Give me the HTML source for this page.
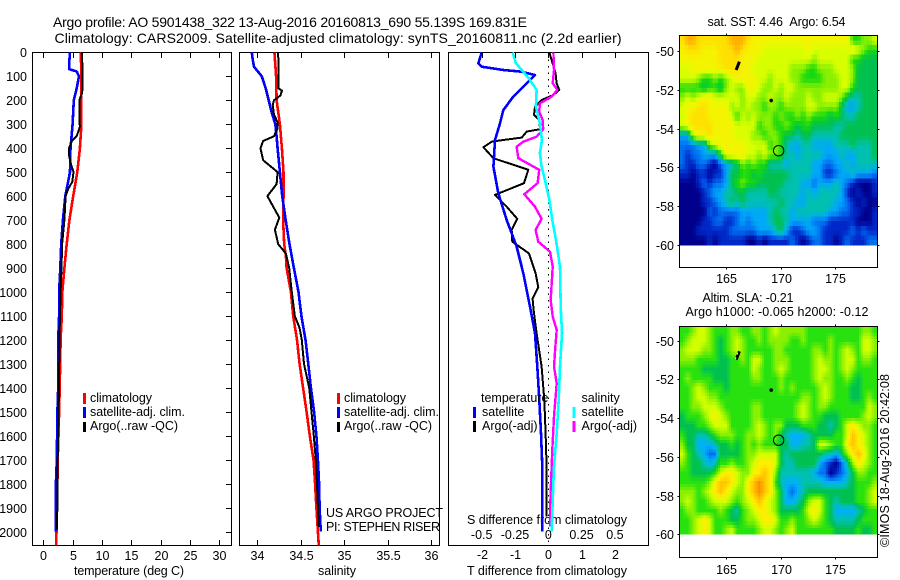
<!DOCTYPE html>
<html lang="en">
<head>
<meta charset="utf-8">
<title>Argo profile 5901438_322</title>
<style>
  html, body { margin: 0; padding: 0; background: #fff; }
  svg { display: block; }
  text { font-family: "Liberation Sans", sans-serif; font-size: 12.5px; fill: #000; }
  .big { font-size: 14px; }
</style>
</head>
<body>
<svg id="chart" xmlns="http://www.w3.org/2000/svg" width="900" height="580" viewBox="0 0 900 580">
  <rect x="0" y="0" width="900" height="580" fill="#fff"/>
  <text class="big" x="53" y="27" textLength="474">Argo profile: AO 5901438_322 13-Aug-2016 20160813_690 55.139S 169.831E</text>
  <text class="big" x="54.5" y="43" textLength="567">Climatology: CARS2009. Satellite-adjusted climatology: synTS_20160811.nc (2.2d earlier)</text>

  <text x="74" y="575" textLength="110">temperature (deg C)</text>
  <text x="318" y="575" textLength="38">salinity</text>
  <text x="467" y="575" textLength="160">T difference from climatology</text>
  <text x="467" y="524" textLength="160">S difference from climatology</text>

  <g>
    <rect x="83" y="393" width="3" height="11" fill="#f00"/>
    <text x="90" y="402" textLength="62">climatology</text>
    <rect x="83" y="407" width="3" height="11" fill="#00f"/>
    <text x="90" y="416" textLength="95">satellite-adj. clim.</text>
    <rect x="83" y="422" width="3" height="10" fill="#000"/>
    <text x="90" y="430" textLength="88">Argo(..raw -QC)</text>
  </g>
  <g>
    <rect x="337" y="393" width="3" height="11" fill="#f00"/>
    <text x="344" y="402" textLength="62">climatology</text>
    <rect x="337" y="407" width="3" height="11" fill="#00f"/>
    <text x="344" y="416" textLength="95">satellite-adj. clim.</text>
    <rect x="337" y="422" width="3" height="10" fill="#000"/>
    <text x="344" y="430" textLength="88">Argo(..raw -QC)</text>
  </g>
  <text x="326" y="517" textLength="117">US ARGO PROJECT</text>
  <text x="326" y="531" textLength="114">PI: STEPHEN RISER</text>

  <text x="707.5" y="26" textLength="138">sat. SST: 4.46 &#160;Argo: 6.54</text>
  <text x="702.5" y="302" textLength="91">Altim. SLA: -0.21</text>
  <text x="685.5" y="316" textLength="183">Argo h1000: -0.065 h2000: -0.12</text>
  <text transform="translate(889 547) rotate(-90)" textLength="173">©IMOS 18-Aug-2016 20:42:08</text>
</svg>

<script>
// ---------- profile data: depth (m) and value pairs for each series ----------
const depthTicks = [0,100,200,300,400,500,600,700,800,900,1000,1100,1200,1300,1400,1500,1600,1700,1800,1900,2000];
const tempTicks = [0,5,10,15,20,25,30];
const salTicks = [34,34.5,35,35.5,36];
const salTickLabels = ['34','34.5','35','35.5','36'];
const dTTicks = [-2,-1,0,1,2];
const dTTickLabels = ['-2','-1','0','1','2'];
const dSTicks = [-0.5,-0.25,0,0.25,0.5];
const dSTickLabels = ['-0.5','-0.25','0','0.25','0.5'];

const climTempDepth = [0,100,200,300,400,500,600,700,800,900,1000,1100,1200,1400,1600,1700,1800,2000,2057];
const climTempValue = [6.4,6.5,6.5,6.5,6.25,5.8,5.1,4.45,4.0,3.6,3.25,3.15,2.95,2.8,2.6,2.45,2.4,2.25,2.2];
const satTempDepth = [0,50,70,80,100,150,200,300,400,500,600,700,800,900,1000,1100,1200,1400,1500,1700,1800,2000];
const satTempValue = [4.55,4.4,4.4,5.7,6.1,5.7,5.2,5.0,4.65,4.55,3.75,3.35,3.05,2.9,2.7,2.7,2.55,2.55,2.4,2.3,2.15,2.15];
const argoTempDepth = [0,100,150,170,200,280,310,350,370,400,430,460,500,540,570,600,700,800,900,1000,1100,1200,1400,1500,1700,1850,1990];
const argoTempValue = [6.6,6.7,6.7,6.6,6.15,6.15,6.25,5.7,4.85,4.4,4.4,4.65,5.15,4.95,4.25,3.8,3.6,3.2,3.1,2.95,2.85,2.75,2.7,2.6,2.45,2.4,2.35];

const climSalDepth = [0,100,200,300,400,500,600,700,800,850,900,1000,1100,1200,1300,1400,1500,1600,1700,1800,1900,2000,2057];
const climSalValue = [34.2,34.22,34.225,34.263,34.286,34.305,34.305,34.3,34.313,34.332,34.34,34.39,34.416,34.46,34.49,34.53,34.57,34.607,34.65,34.668,34.683,34.7,34.71];
const satSalDepth = [0,30,60,100,150,200,250,300,350,400,500,600,700,800,900,1000,1100,1200,1300,1400,1500,1600,1700,1800,1900,2000];
const satSalValue = [33.94,33.95,33.965,34.055,34.1,34.134,34.168,34.21,34.225,34.237,34.263,34.29,34.33,34.374,34.424,34.477,34.51,34.557,34.59,34.62,34.656,34.683,34.7,34.714,34.72,34.733];
const argoSalDepth = [0,150,160,180,200,220,260,290,320,350,370,400,450,500,550,600,690,740,800,840,900,1000,1100,1150,1200,1300,1400,1500,1600,1700,1800,1900,1980];
const argoSalValue = [34.244,34.248,34.286,34.27,34.195,34.18,34.195,34.233,34.233,34.195,34.07,34.04,34.07,34.237,34.225,34.12,34.256,34.206,34.244,34.332,34.37,34.4,34.435,34.49,34.515,34.54,34.6,34.626,34.653,34.676,34.69,34.7,34.71];

const satDTDepth = [0,46,60,74,81,95,129,185,241,296,366,477,588,700,811,922,1061,1172,1311,1450,1589,1728,1867,2000];
const satDTValue = [-2.0,-2.1,-2.0,-1.35,-0.8,-0.4,-0.65,-1.05,-1.35,-1.45,-1.6,-1.65,-1.5,-1.25,-0.95,-0.75,-0.55,-0.4,-0.33,-0.27,-0.22,-0.18,-0.18,-0.18];
const argoDTDepth = [0,32,88,129,157,178,199,227,261,282,321,331,356,366,373,396,442,490,546,595,644,695,741,790,839,922,981,1027,1075,1172,1311,1450,1589,1728,1867,1936];
const argoDTValue = [0.03,0.1,0.22,0.25,0.33,0.15,-0.2,-0.4,-0.43,-0.27,-0.25,-0.65,-0.8,-1.35,-1.7,-1.95,-1.65,-0.6,-0.73,-1.6,-1.25,-0.93,-1.1,-1.08,-0.58,-0.38,-0.3,-0.47,-0.44,-0.35,-0.2,-0.12,-0.08,-0.05,-0.05,-0.05];
const satDSDepth = [0,46,81,115,157,227,296,366,421,477,533,616,700,783,894,1061,1172,1311,1450,1589,1728,1867,2000];
const satDSValue = [-0.268,-0.243,-0.188,-0.138,-0.088,-0.093,-0.063,-0.048,-0.063,-0.05,-0.025,0.008,0.03,0.058,0.088,0.093,0.103,0.088,0.078,0.063,0.043,0.033,0.025];
const argoDSDepth = [0,74,129,157,185,213,248,282,321,352,373,394,442,490,546,592,644,695,741,790,832,894,1033,1103,1158,1214,1311,1381,1519,1658,1797,1922,1978];
const argoDSValue = [0.038,0.043,0.033,0.068,0.025,-0.063,-0.068,-0.043,-0.038,-0.088,-0.188,-0.238,-0.225,-0.068,-0.08,-0.18,-0.1,-0.05,-0.095,-0.075,0.013,0.033,0.018,0.033,0.063,0.055,0.043,0.063,0.043,0.03,0.02,0.013,0.013];

// ---------- map data: colour-level grids (row 0 = northernmost) ----------
const mapLonTicks = [165,170,175];
const mapLatTicks = [-50,-52,-54,-56,-58,-60];
const argoLon = 169.83;
const argoLat = -55.14;
const sstLevels = [
[10,11,11,10,10,10,10,10,10,11,11,11,10,9,9,9,9,9,9,9,9,9,9,9,9,9,9,9,9,9,9,6,6,7,7,8],
[9,10,10,10,9,9,9,10,10,10,11,10,9,9,9,8,8,8,8,8,8,8,8,9,8,8,8,8,8,8,8,9,8,7,6,6],
[9,9,9,9,9,9,9,10,10,10,10,9,9,9,8,8,8,8,8,8,8,8,8,8,7,8,8,8,8,8,8,6,6,5,5,5],
[8,8,9,9,9,9,9,9,10,10,10,9,9,8,8,8,8,8,8,8,7,7,7,6,6,7,7,7,8,8,8,7,5,5,5,5],
[8,8,8,7,6,6,7,6,7,8,9,9,9,9,8,8,7,8,8,8,7,7,6,6,6,6,7,7,7,8,8,7,5,5,5,5],
[6,6,6,6,5,6,6,5,7,8,7,7,9,9,8,7,7,8,7,8,8,7,7,7,7,7,7,7,7,8,8,6,5,5,5,5],
[7,8,7,8,9,9,8,8,8,8,8,7,8,8,7,7,8,7,7,8,7,7,7,8,7,7,8,8,8,7,5,4,4,5,5,5],
[8,9,9,10,10,9,9,9,9,7,8,7,8,7,7,6,7,7,6,7,7,7,7,8,8,7,7,7,7,5,3,3,4,5,5,5],
[8,9,10,10,10,9,9,9,9,8,6,8,7,8,7,7,7,6,7,6,6,7,6,7,6,6,6,5,6,5,4,4,5,5,5,5],
[8,9,10,10,10,10,9,9,9,9,8,8,8,8,6,7,7,6,6,7,6,5,6,6,5,5,5,5,4,4,5,5,5,5,5,5],
[3,3,8,9,9,10,9,9,9,9,8,8,8,7,7,6,7,7,6,5,5,4,5,5,4,4,4,4,4,5,5,5,5,5,5,5],
[2,2,2,3,3,7,8,9,9,9,9,9,8,8,8,8,6,7,6,4,3,3,4,4,3,3,3,3,4,4,4,5,4,4,4,5],
[2,1,2,2,3,3,3,6,9,9,9,9,8,8,7,8,7,7,6,4,4,3,4,4,4,4,3,3,3,4,3,3,4,4,4,5],
[2,1,1,2,2,1,0,2,3,4,5,7,6,7,6,6,4,4,4,3,4,4,4,4,3,3,2,2,3,3,4,3,4,4,4,4],
[1,1,0,1,1,0,1,1,3,5,5,6,6,5,6,5,5,5,5,5,4,4,4,4,3,3,1,1,2,3,3,4,3,3,3,2],
[0,0,0,1,2,1,2,2,3,5,6,7,6,6,5,5,5,5,5,4,4,4,3,3,2,3,3,3,4,3,2,1,0,0,0,1],
[0,0,0,0,1,2,3,3,4,4,5,5,4,4,4,4,5,5,4,4,4,4,3,4,3,4,4,4,4,3,1,0,1,0,0,1],
[0,0,0,0,1,1,2,3,4,5,4,5,4,4,4,4,4,4,5,4,4,3,3,4,4,4,4,4,3,3,2,1,0,1,0,0],
[0,0,0,0,0,2,1,2,2,2,2,3,3,3,3,3,4,5,4,4,3,4,4,4,4,4,4,3,3,2,2,1,1,0,0,1],
[0,0,0,0,1,1,2,2,1,1,2,3,2,3,3,3,4,5,5,4,3,3,3,3,2,2,2,1,1,1,1,1,0,0,0,1],
[0,0,0,1,1,1,1,1,1,2,2,2,2,2,3,3,3,4,5,3,1,1,2,3,3,2,1,1,1,1,1,2,1,2,1,1],
[0,0,0,0,0,1,0,1,1,1,1,1,0,0,1,0,1,1,1,1,2,1,0,1,2,2,1,1,0,1,2,1,1,1,2,2]
];
const slaLevels = [
[6,6,7,8,8,7,6,6,6,7,7,6,6,7,7,6,7,8,7,7,7,7,7,6,6,6,6,6,6,6,6,6,6,7,7,6],
[6,7,8,8,8,7,6,5,6,7,8,7,6,6,7,6,7,7,7,7,6,6,7,6,6,6,6,7,6,6,6,6,6,8,8,7],
[7,8,8,8,7,7,6,5,6,7,8,7,6,6,6,6,6,7,7,6,6,6,6,6,7,7,6,7,6,7,8,7,6,8,8,7],
[7,7,7,6,6,6,6,5,5,6,6,7,6,8,8,6,6,7,7,7,6,6,6,6,7,8,7,7,6,7,8,8,6,7,7,6],
[6,6,6,6,5,5,5,5,5,6,6,6,6,8,7,6,6,7,8,7,6,6,6,6,7,8,8,7,6,7,8,7,6,6,6,6],
[6,7,6,6,6,6,5,5,5,6,6,6,6,7,7,6,6,6,7,6,6,6,6,6,7,8,7,7,6,6,7,6,5,6,6,6],
[6,6,7,8,7,6,6,6,5,6,6,6,6,6,6,6,6,6,7,6,7,6,6,6,6,7,8,7,6,6,6,5,5,6,6,6],
[6,6,7,8,8,7,7,6,6,6,6,6,6,6,6,6,6,6,6,6,6,6,7,7,6,7,8,7,6,6,6,5,5,6,7,6],
[6,6,7,7,8,8,8,7,6,6,6,6,6,7,7,6,6,6,6,6,6,7,8,7,6,7,7,6,6,6,6,6,6,6,8,7],
[5,6,6,6,7,8,9,8,7,6,6,6,6,7,7,6,6,6,6,6,6,7,8,7,6,6,5,5,5,6,6,6,6,7,8,7],
[5,5,5,6,6,7,8,8,8,6,6,6,6,7,8,7,6,7,7,5,5,5,6,6,6,5,5,4,5,6,8,9,8,7,7,6],
[6,5,5,4,4,5,6,7,7,7,6,6,7,7,8,7,6,7,5,4,3,3,3,4,5,5,5,5,6,6,8,10,9,8,7,6],
[7,5,5,3,3,3,4,5,5,6,5,6,7,6,7,6,6,6,5,5,3,3,4,4,5,8,8,7,6,6,9,10,9,8,7,6],
[8,6,5,4,3,2,2,5,5,5,5,6,7,7,8,8,8,8,5,4,5,5,5,5,5,5,4,4,3,5,7,9,10,9,7,6],
[7,6,5,5,4,3,4,6,6,7,6,6,7,8,9,9,9,8,5,4,4,5,5,5,5,3,2,1,0,2,4,7,9,8,7,6],
[6,6,5,5,5,5,6,8,9,9,8,7,7,9,9,10,9,7,4,4,4,4,4,4,3,2,2,0,1,2,3,5,7,7,6,6],
[6,6,6,6,6,7,9,10,10,9,8,7,9,10,11,10,9,6,4,3,3,3,4,4,4,4,3,3,3,3,4,5,6,6,6,7],
[7,7,7,6,7,8,9,10,9,8,7,7,9,10,11,10,9,7,5,3,2,3,4,5,5,5,5,5,5,5,5,5,6,6,7,8],
[7,8,7,6,6,7,8,8,8,7,6,7,8,9,10,9,8,7,5,3,3,4,5,7,8,8,6,5,4,5,5,5,6,6,7,8],
[6,7,7,6,6,6,6,7,6,5,4,6,7,8,9,9,8,7,5,5,5,5,6,8,9,8,6,5,3,3,3,3,4,5,6,6],
[6,6,7,8,9,8,6,6,6,5,5,6,7,7,8,9,9,8,6,6,7,6,6,7,8,7,6,5,4,4,4,4,5,6,6,6],
[6,6,7,8,9,8,6,6,7,8,6,6,6,6,7,8,8,7,6,7,8,6,6,6,6,6,6,6,5,5,5,5,6,5,5,6]
];

// ---------- rendering ----------
const svg = document.getElementById('chart');
const NS = 'http://www.w3.org/2000/svg';
const sstColors = [[0,0,140],[0,40,200],[0,112,240],[0,168,248],[0,192,176],[0,192,80],[24,216,16],[136,240,0],[216,255,0],[244,244,0],[255,224,0],[255,176,0]];
const slaColors = [[0,0,140],[0,40,200],[0,112,240],[0,176,248],[0,192,176],[0,192,80],[40,226,16],[136,240,0],[208,255,0],[255,238,0],[255,196,0],[255,140,0]];

function mk(tag, attrs, parent) {
  const el = document.createElementNS(NS, tag);
  for (const k in attrs) el.setAttribute(k, attrs[k]);
  (parent || svg).appendChild(el);
  return el;
}
function yDepth(d) { return 52.3 + d * 0.2397; }
function xTemp(v) { return 43.3 + v * 5.86; }
function xSal(v) { return 257 + (v - 34) * 87; }
function xDT(v) { return 548.3 + v * 33.3; }
function xDS(v) { return 548.3 + v * 133.2; }

function drawPanel(name, left, right) {
  const g = mk('g', {});
  
  
  const frame = mk('rect', { x: left, y: 52.5, width: right - left, height: 493, fill: 'none', stroke: '#000', 'stroke-width': 1, 'shape-rendering': 'crispEdges' }, g);
  
  
  return g;
}
function drawSeries(g, name, depths, values, xFn, color, width) {
  const pts = depths.map((d, i) => xFn(values[i]).toFixed(1) + ',' + yDepth(d).toFixed(1)).join(' ');
  const line = mk('polyline', { points: pts, fill: 'none', stroke: color, 'stroke-width': width, 'shape-rendering': 'crispEdges', 'stroke-linejoin': 'round' }, g);
  
  
}
function tickLine(g, x1, y1, x2, y2) {
  const t = mk('line', { x1: x1, y1: y1, x2: x2, y2: y2, stroke: '#000', 'stroke-width': 1, 'shape-rendering': 'crispEdges' }, g);
  
  
}
function tickText(g, x, y, anchor, str) {
  const t = mk('text', { x: x, y: y, 'text-anchor': anchor }, g);
  
  
  t.textContent = str;
}

// temperature panel
const p1 = drawPanel('temperature-panel', 32.5, 231.5);
drawSeries(p1, 'climatology-temperature-line', climTempDepth, climTempValue, xTemp, '#f00', 2.6);
drawSeries(p1, 'satellite-temperature-line', satTempDepth, satTempValue, xTemp, '#00f', 2.6);
drawSeries(p1, 'argo-temperature-line', argoTempDepth, argoTempValue, xTemp, '#000', 2);
depthTicks.forEach(d => {
  const y = Math.round(yDepth(d)) + 0.5;
  tickLine(p1, 226, y, 231, y);
  tickText(p1, 27, y + 4.5, 'end', String(d));
});
tempTicks.forEach(v => {
  const x = Math.round(xTemp(v)) + 0.5;
  tickLine(p1, x, 53, x, 58);
  tickLine(p1, x, 540, x, 545);
  tickText(p1, x, 560, 'middle', String(v));
});

// salinity panel
const p2 = drawPanel('salinity-panel', 239.5, 439.5);
drawSeries(p2, 'climatology-salinity-line', climSalDepth, climSalValue, xSal, '#f00', 2.6);
drawSeries(p2, 'satellite-salinity-line', satSalDepth, satSalValue, xSal, '#00f', 2.6);
drawSeries(p2, 'argo-salinity-line', argoSalDepth, argoSalValue, xSal, '#000', 2);
salTicks.forEach((v, i) => {
  const x = Math.round(xSal(v)) + 0.5;
  tickLine(p2, x, 53, x, 58);
  tickLine(p2, x, 540, x, 545);
  tickText(p2, x, 560, 'middle', salTickLabels[i]);
});

// difference panel
const p3 = drawPanel('difference-panel', 448.5, 648.5);
const zero = mk('line', { x1: xDT(0), y1: 53, x2: xDT(0), y2: 545, stroke: '#000', 'stroke-width': 1, 'stroke-dasharray': '1.5 5', 'shape-rendering': 'crispEdges' }, p3);


drawSeries(p3, 'argo-temperature-difference-line', argoDTDepth, argoDTValue, xDT, '#000', 2);
drawSeries(p3, 'satellite-temperature-difference-line', satDTDepth, satDTValue, xDT, '#00f', 2.6);
drawSeries(p3, 'argo-salinity-difference-line', argoDSDepth, argoDSValue, xDS, '#f0f', 2.4);
drawSeries(p3, 'satellite-salinity-difference-line', satDSDepth, satDSValue, xDS, '#0ff', 2.6);
dTTicks.forEach((v, i) => {
  const x = Math.round(xDT(v)) + 0.5;
  tickLine(p3, x, 53, x, 58);
  tickText(p3, x, 559, 'middle', dTTickLabels[i]);
});
dSTicks.forEach((v, i) => {
  tickText(p3, xDS(v), 539, 'middle', dSTickLabels[i]);
});

// difference legend, drawn above the series
const legendG = mk('g', {});


const legendHeads = ['temperature', 'satellite', 'Argo(-adj)', 'salinity', 'satellite', 'Argo(-adj)'];
const legendCols = [481, 482, 482, 581.5, 581.5, 581.5];
const legendRows = [402, 416, 430, 402, 416, 430];
const legendSwatch = [null, '#00f', '#000', null, '#0ff', '#f0f'];
legendHeads.forEach((str, i) => {
  const t = mk('text', { x: legendCols[i], y: legendRows[i] }, legendG);
  
  
  t.textContent = str;
  if (legendSwatch[i]) {
    const r = mk('rect', { x: legendCols[i] - 9, y: legendRows[i] - 9, width: 3, height: 11, fill: legendSwatch[i] }, legendG);
    
    
  }
});

// maps: each grid value is resampled bilinearly to a finer pixel raster
function sampleLevel(levels, u, v) {
  const rows = levels.length, cols = levels[0].length;
  const cu = Math.max(0, Math.min(cols - 1, u - 0.5));
  const cv = Math.max(0, Math.min(rows - 1, v - 0.5));
  const c0 = Math.floor(cu), r0 = Math.floor(cv);
  const c1 = Math.min(cols - 1, c0 + 1), r1 = Math.min(rows - 1, r0 + 1);
  const fu = cu - c0, fv = cv - r0;
  return (levels[r0][c0] * (1 - fu) + levels[r0][c1] * fu) * (1 - fv) +
         (levels[r1][c0] * (1 - fu) + levels[r1][c1] * fu) * fv;
}
function levelColor(palette, lev) {
  const i = Math.max(0, Math.min(palette.length - 2, Math.floor(lev)));
  const f = Math.min(1, lev - i);
  const c = [0, 1, 2].map(k => Math.round(palette[i][k] * (1 - f) + palette[i + 1][k] * f));
  return 'rgb(' + c.join(',') + ')';
}
function drawMap(name, levels, palette, upsample, top, bottom, lat50Y, lat60Y, labelY, islandDash) {
  const left = 679.5, right = 877.5;
  const xLon = lon => 725.7 + (lon - 165) * 10.96;
  const yLat = lat => lat50Y + (-50 - lat) * (lat60Y - lat50Y) / 10;
  const g = mk('g', {});
  
  
  const rows = levels.length * upsample, cols = levels[0].length * upsample;
  const cw = (right - left) / cols, ch = (lat60Y - top) / rows;
  for (let r = 0; r < rows; r++) {
    for (let c = 0; c < cols; c++) {
      const lev = sampleLevel(levels, (c + 0.5) / upsample, (r + 0.5) / upsample);
      const cell = mk('rect', { x: (left + c * cw).toFixed(2), y: (top + r * ch).toFixed(2), width: (cw + 0.4).toFixed(2), height: (ch + 0.4).toFixed(2), fill: levelColor(palette, lev), 'shape-rendering': 'crispEdges' }, g);
      
      
    }
  }
  const frame = mk('rect', { x: left, y: top, width: right - left, height: bottom - top, fill: 'none', stroke: '#000', 'stroke-width': 1, 'shape-rendering': 'crispEdges' }, g);
  
  
  mapLonTicks.forEach(v => {
    const x = Math.round(xLon(v)) + 0.5;
    tickLine(g, x, top - 2, x, top);
    tickLine(g, x, bottom, x, bottom + 2);
    tickText(g, x, labelY, 'middle', String(v));
  });
  mapLatTicks.forEach(v => {
    const y = Math.round(yLat(v)) + 0.5;
    tickLine(g, left - 2, y, left, y);
    tickLine(g, right, y, right + 2, y);
    tickText(g, 674, y + 4.5, 'end', String(v));
  });
  const big = mk('line', { x1: xLon(166.25), y1: yLat(-50.55), x2: xLon(165.95), y2: yLat(-50.98), stroke: '#000', 'stroke-width': 3 }, g);
  
  
  const small = mk('circle', { cx: xLon(169.15), cy: yLat(-52.55), r: 1.8, fill: '#000' }, g);
  
  
  if (islandDash) {
    const w = mk('line', { x1: xLon(166.1), y1: yLat(-50.62), x2: xLon(165.85), y2: yLat(-51), stroke: '#fff', 'stroke-width': 1, 'stroke-dasharray': '2 3' }, g);
    
    
  }
  const marker = mk('circle', { cx: xLon(argoLon), cy: yLat(argoLat), r: 5.2, fill: 'none', stroke: '#000', 'stroke-width': 1 }, g);
  
  
}
drawMap('sst-map', sstLevels, sstColors, 2, 35.5, 267.5, 51, 245, 283, false);
drawMap('sla-map', slaLevels, slaColors, 3, 326.5, 557.5, 340.7, 534.3, 574, true);
</script>
</body>
</html>
